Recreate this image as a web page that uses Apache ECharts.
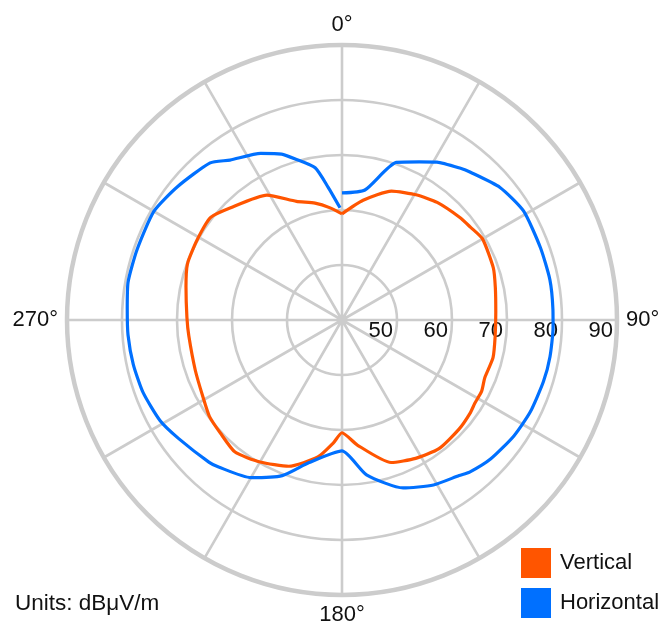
<!DOCTYPE html>
<html>
<head>
<meta charset="utf-8">
<script src="https://cdn.jsdelivr.net/npm/echarts@6/dist/echarts.min.js"></script>
<style>
html,body{margin:0;padding:0;background:#fff;}
#chart{width:662px;height:622px;}
</style>
</head>
<body>
<div id="chart"></div>
<script>
var seriesNames = ['Vertical', 'Horizontal'];
var angleLabels = ['0°', '90°', '180°', '270°'];
var radiusTicks = [50, 60, 70, 80, 90];
var unitsText = 'Units: dBμV/m';

var verticalAngles = [0,10,21,31,39,49,54,60,71,78,87,96,104,112,117,122,126,133,143,152,161,173,180,184,190,200,210,219,227,234,241,251,264,271,282,290,299,308,315,329,339,347,354,360];
var verticalValues = [59.3,62.1,65.1,66.5,67.5,68.4,68.8,69.5,69.1,68.5,68.0,68.0,68.3,68.0,68.5,68.5,68.8,69.1,69.3,68.5,67.4,62.9,60.5,62.4,65.3,68.3,69.8,70.9,70.2,69.8,68.9,68.2,68.0,68.2,69.0,69.9,70.1,70.3,68.8,66.5,63.1,61.8,60.5,59.3];

var horizontalAngles = [0,10,19,26,31,38,41,50,59,70,79,87,92,100,107,116,124,133,140,143,151,160,171,180,193,201,210,220,223,234,241,250,258,266,273,280,289,300,309,320,325,334,340,344,350,354,359];
var horizontalValues = [63.1,64.0,70.3,72.0,73.5,75.0,75.6,77.5,78.5,78.4,78.5,78.4,78.4,78.4,78.3,78.1,77.7,77.0,76.1,75.4,74.3,72.5,68.5,63.8,66.6,70.3,73.1,74.9,75.4,76.7,77.8,78.5,78.8,79.0,79.1,79.5,79.4,79.5,78.5,77.3,75.5,73.7,72.1,70.4,68.1,64.3,60.4];

var colors = ['#ff5500', '#0070ff'];
var FONT = "'Liberation Sans', Arial, Helvetica, sans-serif";

function pairs(angles, values) {
  return angles.map(function (a, i) { return [values[i], a]; });
}

var chart = echarts.init(document.getElementById('chart'), null, {renderer: 'canvas'});
chart.setOption({
  animation: false,
  backgroundColor: '#ffffff',
  textStyle: {fontFamily: FONT},
  title: {
    text: unitsText,
    left: 15, top: 592, padding: 0,
    textStyle: {fontSize: 22.5, fontWeight: 'normal', color: '#111', fontFamily: FONT}
  },
  legend: {
    orient: 'vertical',
    left: 521, top: 548,
    padding: 0,
    itemWidth: 30, itemHeight: 30, itemGap: 10,
    icon: 'rect',
    data: seriesNames,
    textStyle: {fontSize: 22, color: '#111', fontFamily: FONT, padding: [0, 0, 0, 4]}
  },
  polar: [
    {center: [342, 320], radius: 275},
    {center: [342, 320], radius: 275}
  ],
  angleAxis: [
    {
      polarIndex: 0,
      type: 'value', min: 0, max: 360, interval: 30,
      startAngle: 90, clockwise: true,
      axisLine: {lineStyle: {color: '#cccccc', width: 4.5}},
      axisTick: {show: false},
      splitLine: {lineStyle: {color: '#cccccc', width: 2.6}},
      axisLabel: {
        margin: 9,
        fontSize: 22, color: '#111', fontFamily: FONT,
        formatter: function (v) {
          if (v % 90 === 0 && v < 360) { return angleLabels[v / 90]; }
          return '';
        }
      }
    },
    {
      polarIndex: 1,
      type: 'value', min: 0, max: 360,
      startAngle: 0,
      show: false
    }
  ],
  radiusAxis: [
    {
      polarIndex: 0,
      type: 'value', min: 40, max: 90, interval: 10,
      axisLine: {show: false},
      axisTick: {show: false},
      axisLabel: {show: false},
      splitLine: {lineStyle: {color: '#cccccc', width: 2.6}}
    },
    {
      polarIndex: 1,
      type: 'value', min: 40, max: 90, interval: 10,
      axisLine: {show: false},
      axisTick: {show: false},
      splitLine: {show: false},
      axisLabel: {
        show: true,
        margin: -11,
        align: 'right',
        verticalAlign: 'middle',
        padding: [0, 4, 0, 0],
        fontSize: 22, color: '#111', fontFamily: FONT,
        formatter: function (v) { return radiusTicks.indexOf(v) >= 0 ? String(v) : ''; }
      }
    }
  ],
  series: [
    {
      name: seriesNames[0],
      type: 'line',
      coordinateSystem: 'polar',
      polarIndex: 0,
      data: pairs(verticalAngles, verticalValues),
      symbol: 'none',
      smooth: 0.2,
      itemStyle: {color: colors[0]},
      lineStyle: {color: colors[0], width: 3.2},
      z: 5
    },
    {
      name: seriesNames[1],
      type: 'line',
      coordinateSystem: 'polar',
      polarIndex: 0,
      data: pairs(horizontalAngles, horizontalValues),
      symbol: 'none',
      smooth: 0.2,
      itemStyle: {color: colors[1]},
      lineStyle: {color: colors[1], width: 3.2},
      z: 5
    }
  ]
});
</script>
</body>
</html>
